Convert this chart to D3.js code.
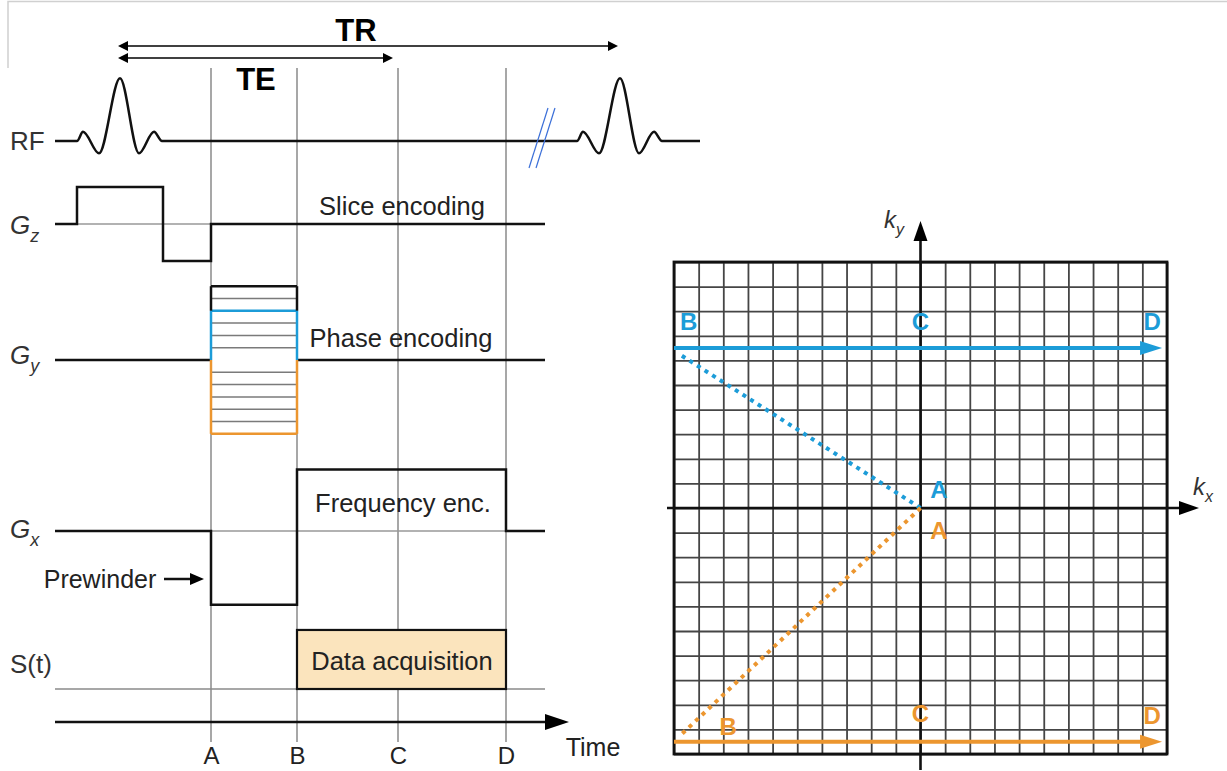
<!DOCTYPE html>
<html>
<head>
<meta charset="utf-8">
<script src="https://cdn.jsdelivr.net/npm/d3@7"></script>
<style>
body { margin: 0; background: #fff; }
text { font-family: "Liberation Sans", Arial, sans-serif; }
</style>
</head>
<body>
<svg id="chart" width="1227" height="771"></svg>
<script>
// --- dati della sequenza (unita' di tempo arbitrarie) ---
const timeLabels = ['A', 'B', 'C', 'D'];
const timeValues = [31.2, 48.4, 68.6, 90.2];
const rfCenters = [13, 113];
const rfOffsets = [-8.6, -7.4, -4.2, 0, 3.8, 6.8, 8.4];
const rfAmps = [0, 0.75, -1, 5.1, -1, 0.75, 0];
const TR = 100, TE = 55;
const gzTimes = [0, 4.4, 4.4, 21.6, 21.6, 31.2, 31.2, 98];
const gzAmps = [0, 0, 3, 3, -3, -3, 0, 0];
const gySteps = [-6, -5, -4, -3, -2, -1, 0, 1, 2, 3, 4, 5, 6];
const gyBlueStep = 4, gyOrangeStep = -6;
const gxTimes = [0, 31.2, 31.2, 48.4, 48.4, 90.2, 90.2, 98];
const gxAmps = [0, 0, -6, -6, 5, 5, 0, 0];
const acqStart = 48.4, acqEnd = 90.2, acqHeight = 4.8;

// --- k-space ---
const kTicks = d3.range(-10, 11);
const blueKy = 6.5, orangeKy = -9.5;
const blueStart = [-9.7, 6.2], orangeStart = [-9.8, -9.3];
const lineEndKx = 9.8;
const blueLabels = [['B', -9.4, 7.6], ['C', 0, 7.6], ['D', 9.4, 7.6], ['A', 0.75, 0.75]];
const orangeLabels = [['A', 0.75, -0.9], ['C', 0, -8.35], ['D', 9.4, -8.45], ['B', -7.8, -8.9]];

const BLUE = '#1c9cd8', ORANGE = '#ec962f';

const svg = d3.select('#chart');

// bordo grigio chiaro in alto
svg.append('path').attr('d', 'M8,68V1.5H1227').attr('fill', 'none')
  .attr('stroke', '#d0d0d0').attr('stroke-width', 1.5);

// scala del tempo e scala delle ampiezze
const tx = d3.scaleLinear().domain([0, 129]).range([55, 700]);
const amp = d3.scaleLinear().domain([0, 1]).range([0, -12.3]);
const rows = { rf: 141, gz: 224, gy: 360, gx: 531, st: 689, time: 722 };

// linee verticali A-D
svg.append('g').selectAll('line').data(timeValues).join('line')
  .attr('x1', d => tx(d)).attr('x2', d => tx(d))
  .attr('y1', 68).attr('y2', 742)
  .attr('stroke', '#8a8a8a').attr('stroke-width', 1.5);

// freccia triangolo
function tri(g, x, y, dir, len, half, color) {
  let p;
  if (dir === 'r') p = [[x, y], [x - len, y - half], [x - len, y + half]];
  if (dir === 'l') p = [[x, y], [x + len, y - half], [x + len, y + half]];
  if (dir === 'u') p = [[x, y], [x - half, y + len], [x + half, y + len]];
  g.append('path').attr('d', 'M' + p.join('L') + 'Z').attr('fill', color || '#000');
}

// TR e TE
const header = svg.append('g');
[[TR, 46], [TE, 58]].forEach(([len, y]) => {
  const x0 = tx(rfCenters[0]) - 2, x1 = tx(rfCenters[0] + len) - 2;
  header.append('line').attr('x1', x0 + 6).attr('x2', x1 - 6).attr('y1', y).attr('y2', y)
    .attr('stroke', '#000').attr('stroke-width', 1.6);
  tri(header, x0, y, 'l', 10, 5);
  tri(header, x1, y, 'r', 10, 5);
});
header.append('text').attr('x', 356).attr('y', 41).attr('text-anchor', 'middle')
  .attr('font-size', 31).attr('font-weight', 'bold').text('TR');
header.append('text').attr('x', 256).attr('y', 90).attr('text-anchor', 'middle')
  .attr('font-size', 31).attr('font-weight', 'bold').text('TE');

const line = d3.line();
const stroke = sel => sel.attr('fill', 'none').attr('stroke', '#111').attr('stroke-width', 2.5)
  .attr('stroke-linejoin', 'miter');

// RF
const rfPts = [[tx(0), rows.rf]];
rfCenters.forEach(c => rfOffsets.forEach((o, i) => rfPts.push([tx(c + o), rows.rf + amp(rfAmps[i])])));
rfPts.push([tx(129), rows.rf]);
svg.append('path').attr('d', d3.line().curve(d3.curveMonotoneX)(rfPts)).call(stroke);
// interruzione //
[0, 7].forEach(dx => svg.append('line')
  .attr('x1', 529 + dx).attr('y1', 168).attr('x2', 548 + dx).attr('y2', 108)
  .attr('stroke', '#3b6fd8').attr('stroke-width', 1.2));

// Gz
svg.append('line').attr('x1', tx(0)).attr('x2', tx(98)).attr('y1', rows.gz).attr('y2', rows.gz)
  .attr('stroke', '#999').attr('stroke-width', 1.5);
svg.append('path').attr('d', line(gzTimes.map((t, i) => [tx(t), rows.gz + amp(gzAmps[i])]))).call(stroke);

// Gy - tabella di fase
const gA = timeValues[0], gB = timeValues[1];
svg.append('path').attr('d', line([[tx(0), rows.gy], [tx(gA), rows.gy]])).call(stroke);
svg.append('path').attr('d', line([[tx(gB), rows.gy], [tx(98), rows.gy]])).call(stroke);
svg.append('g').selectAll('line').data(gySteps.filter(s => s !== 0)).join('line')
  .attr('x1', tx(gA)).attr('x2', tx(gB))
  .attr('y1', d => rows.gy + amp(d)).attr('y2', d => rows.gy + amp(d))
  .attr('stroke', d => d === 6 ? '#111' : d === gyBlueStep ? BLUE : d === gyOrangeStep ? ORANGE : '#7a7a7a')
  .attr('stroke-width', d => (d === 6 || d === gyBlueStep || d === gyOrangeStep) ? 2.5 : 1.5);
// lati
const sides = [[6, gyBlueStep, '#111'], [gyBlueStep, 0, BLUE], [0, gyOrangeStep, ORANGE]];
sides.forEach(([a, b, c]) => [gA, gB].forEach(t => svg.append('line')
  .attr('x1', tx(t)).attr('x2', tx(t)).attr('y1', rows.gy + amp(a)).attr('y2', rows.gy + amp(b))
  .attr('stroke', c).attr('stroke-width', 2.5)));

// Gx
svg.append('line').attr('x1', tx(0)).attr('x2', tx(98)).attr('y1', rows.gx).attr('y2', rows.gx)
  .attr('stroke', '#999').attr('stroke-width', 1.5);
svg.append('path').attr('d', line(gxTimes.map((t, i) => [tx(t), rows.gx + amp(gxAmps[i])]))).call(stroke);

// S(t)
svg.append('line').attr('x1', tx(0)).attr('x2', tx(98)).attr('y1', rows.st).attr('y2', rows.st)
  .attr('stroke', '#8a8a8a').attr('stroke-width', 1.5);
svg.append('rect').attr('x', tx(acqStart)).attr('y', rows.st + amp(acqHeight))
  .attr('width', tx(acqEnd) - tx(acqStart)).attr('height', -amp(acqHeight))
  .attr('fill', '#fbe4bd').attr('stroke', '#111').attr('stroke-width', 2.2);

// asse del tempo
const timeAxis = svg.append('g').attr('transform', `translate(0,${rows.time})`)
  .call(d3.axisBottom(tx).tickValues(timeValues).tickFormat((d, i) => timeLabels[i]).tickSize(0).tickPadding(25));
timeAxis.select('.domain').remove();
timeAxis.selectAll('text').attr('font-size', 24).attr('fill', '#222')
  .attr('font-family', '"Liberation Sans", Arial, sans-serif');
svg.append('line').attr('x1', tx(0)).attr('x2', 552).attr('y1', rows.time).attr('y2', rows.time)
  .attr('stroke', '#111').attr('stroke-width', 2.5);
tri(svg, 569, rows.time, 'r', 24, 8);
svg.append('text').attr('x', 593).attr('y', 756).attr('text-anchor', 'middle')
  .attr('font-size', 25).attr('fill', '#222').text('Time');

// testi
const lbl = (x, y, t, size) => svg.append('text').attr('x', x).attr('y', y).attr('text-anchor', 'middle')
  .attr('font-size', size || 26).attr('fill', '#222').text(t);
lbl(402, 215, 'Slice encoding', 25.5);
lbl(401, 347, 'Phase encoding', 25.5);
lbl(403, 512, 'Frequency enc.', 25.5);
lbl(402, 670, 'Data acquisition', 25.5);
lbl(100, 588, 'Prewinder', 25).attr('text-anchor', 'middle');
svg.append('line').attr('x1', 164).attr('x2', 192).attr('y1', 579).attr('y2', 579)
  .attr('stroke', '#111').attr('stroke-width', 2.5);
tri(svg, 204, 579, 'r', 14, 6);

// etichette di riga
const rowLabel = (y, main, sub, italic) => {
  const t = svg.append('text').attr('x', 10).attr('y', y).attr('font-size', 26).attr('fill', '#333');
  t.append('tspan').attr('font-style', italic ? 'italic' : 'normal').text(main);
  if (sub) t.append('tspan').attr('font-style', 'italic').attr('font-size', 18).attr('dy', 8).text(sub);
};
rowLabel(150, 'RF');
rowLabel(234, 'G', 'z', true);
rowLabel(364, 'G', 'y', true);
rowLabel(538, 'G', 'x', true);
rowLabel(673, 'S(t)');

// --- k-space ---
const kx = d3.scaleLinear().domain([-10, 10]).range([674, 1167]);
const ky = d3.scaleLinear().domain([-10, 10]).range([754, 262]);
const k = svg.append('g');
const gridX = k.append('g').attr('transform', `translate(0,${ky(-10)})`)
  .call(d3.axisBottom(kx).tickValues(kTicks).tickSize(-(ky(-10) - ky(10))).tickFormat(''));
const gridY = k.append('g').attr('transform', `translate(${kx(-10)},0)`)
  .call(d3.axisLeft(ky).tickValues(kTicks).tickSize(-(kx(10) - kx(-10))).tickFormat(''));
[gridX, gridY].forEach(g => {
  g.select('.domain').remove();
  g.selectAll('.tick line').attr('stroke', '#454545').attr('stroke-width', 1.8);
});
k.append('rect').attr('x', kx(-10)).attr('y', ky(10)).attr('width', kx(10) - kx(-10))
  .attr('height', ky(-10) - ky(10)).attr('fill', 'none').attr('stroke', '#111').attr('stroke-width', 2.8);

// assi kx, ky
k.append('line').attr('x1', kx(0)).attr('x2', kx(0)).attr('y1', 770).attr('y2', 236)
  .attr('stroke', '#111').attr('stroke-width', 2.6);
tri(k, kx(0), 221, 'u', 20, 7);
k.append('line').attr('x1', 667).attr('x2', 1184).attr('y1', ky(0)).attr('y2', ky(0))
  .attr('stroke', '#111').attr('stroke-width', 2.6);
tri(k, 1199, ky(0), 'r', 20, 7);
const kl = (x, y, sub) => {
  const t = k.append('text').attr('x', x).attr('y', y).attr('font-size', 24)
    .attr('font-style', 'italic').attr('fill', '#333');
  t.append('tspan').text('k');
  t.append('tspan').attr('font-size', 16).attr('dy', 7).text(sub);
};
kl(884, 228, 'y');
kl(1193, 495, 'x');

// traiettorie
[[BLUE, blueKy, blueStart, blueLabels], [ORANGE, orangeKy, orangeStart, orangeLabels]].forEach(([c, yv, s, labs]) => {
  k.append('path').attr('d', line([[kx(0), ky(0)], [kx(s[0]), ky(s[1])]]))
    .attr('stroke', c).attr('stroke-width', 4).attr('stroke-dasharray', '4 5').attr('fill', 'none');
  k.append('line').attr('x1', kx(-10)).attr('x2', kx(lineEndKx) - 14).attr('y1', ky(yv)).attr('y2', ky(yv))
    .attr('stroke', c).attr('stroke-width', 4);
  tri(k, kx(lineEndKx), ky(yv), 'r', 22, 7, c);
  labs.forEach(([t, x, y]) => k.append('text').attr('x', kx(x)).attr('y', ky(y))
    .attr('text-anchor', 'middle').attr('dominant-baseline', 'central')
    .attr('font-size', 24).attr('font-weight', 'bold').attr('fill', c).text(t));
});
</script>
</body>
</html>
